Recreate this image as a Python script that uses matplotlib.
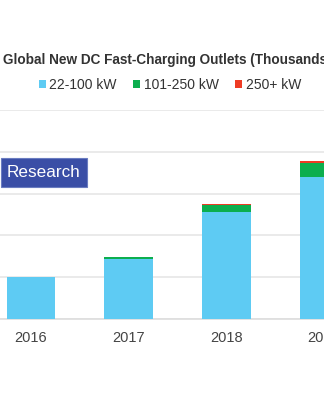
import matplotlib.pyplot as plt
from matplotlib.patches import Patch, Rectangle

# Data (thousands of outlets)
# ------------------------------------------------------------------------------------------
years = ['2016', '2017', '2018', '2019']
kw_22_100 = [20.0, 28.7, 51.2, 68.0]
kw_101_250 = [0.0, 1.0, 3.3, 6.7]
kw_250_plus = [0.0, 0.2, 0.4, 0.7]
series_names = ['22-100 kW', '101-250 kW', '250+ kW']
colors = ['#5ECBF3', '#0CAE4E', '#EE3B24']

plt.rcParams['font.family'] = ['Liberation Sans', 'DejaVu Sans']

W, H = 324, 400

# Plot
# ------------------------------------------------------------------------------------------
fig = plt.figure(figsize=(3.24, 4.0), dpi=100)
ax = fig.add_axes([0.0, 0.2025, 1.0, 0.5225])

x = range(len(years))
bottom2 = kw_22_100
bottom3 = [a + b for a, b in zip(kw_22_100, kw_101_250)]
ax.bar(x, kw_22_100, width=0.5, color=colors[0], zorder=3)
ax.bar(x, kw_101_250, width=0.5, bottom=bottom2, color=colors[1], zorder=3)
ax.bar(x, kw_250_plus, width=0.5, bottom=bottom3, color=colors[2], zorder=3)

ax.set_xlim(-32 / 101, (W - 32) / 101)
ax.set_ylim(0, 100)
ax.set_yticks([0, 20, 40, 60, 80, 100])
ax.yaxis.grid(True, color='#E6E6E6', linewidth=1.2, zorder=0)
ax.tick_params(axis='y', left=False, labelleft=False)
ax.tick_params(axis='x', bottom=False, length=0, pad=9, labelsize=10.5, labelcolor='#444444')
ax.set_xticks(list(x))
ax.set_xticklabels(years)
for s in ['top', 'right', 'left']:
    ax.spines[s].set_visible(False)
ax.spines['bottom'].set_color('#DDDDDD')
ax.spines['bottom'].set_linewidth(1.2)

fig.text(3 / W, 1 - 60 / H, 'Global New DC Fast-Charging Outlets (Thousands)',
         fontsize=9.8, fontweight='bold', color='#333333', ha='left', va='center')

handles = [Patch(facecolor=c, edgecolor='none') for c in colors]
fig.legend(handles, series_names, loc='center', bbox_to_anchor=(170 / W, 1 - 85 / H),
           ncol=3, frameon=False, fontsize=10, handlelength=0.5, handleheight=0.5,
           handletextpad=0.25, columnspacing=1.2, labelcolor='#333333',
           borderpad=0, borderaxespad=0)

fig.patches.append(Rectangle((1 / W, 1 - 187 / H), 86 / W, 29 / H, transform=fig.transFigure,
                             facecolor='#3A4EA6', edgecolor='#6A7CC0', linewidth=0.8, zorder=5))
fig.text(43 / W, 1 - 172.5 / H, 'Research', fontsize=12.3, color='white',
         ha='center', va='center', zorder=6)

plt.savefig('out.png', dpi=100)
plt.close(fig)
